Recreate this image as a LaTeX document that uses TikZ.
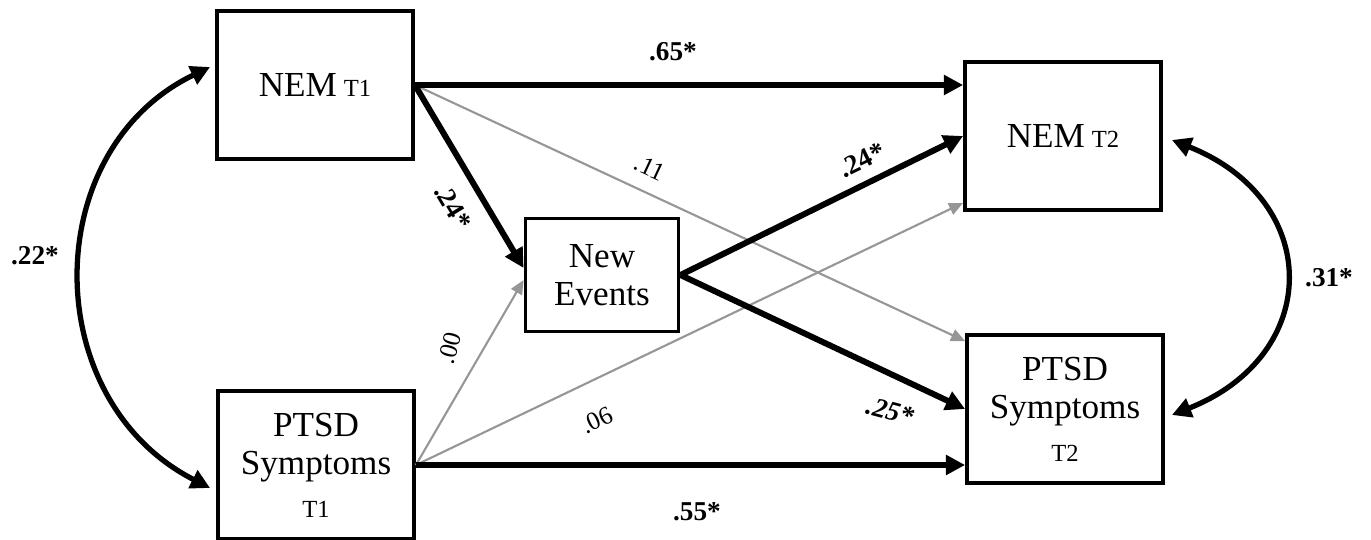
\documentclass[tikz,border=0pt]{standalone}
\usepackage{fontspec}
\setmainfont{Liberation Serif}
\usetikzlibrary{arrows.meta, positioning, calc}
\definecolor{pgray}{RGB}{150, 150, 150}
\definecolor{pblack}{RGB}{0, 0, 0}
\newcommand{\tsub}[1]{{\fontsize{14}{16}\selectfont #1}}

\begin{document}
\begin{tikzpicture}[x=0.02cm, y=-0.02cm,
    box/.style={draw, line width=2.2pt, minimum width=3.92cm, minimum height=2.96cm, align=center, font=\fontsize{20}{22}\selectfont},
    strong/.style={pblack, line width=3.4pt, -{Triangle[length=11pt, width=11pt]}},
    weak/.style={pgray, line width=1.2pt, -{Triangle[length=8pt, width=7pt]}},
    corr/.style={pblack, line width=3pt, {Triangle[length=11pt, width=11pt]}-{Triangle[length=11pt, width=11pt]}},
    est/.style={font=\fontsize{15.5}{18}\selectfont\bfseries},
    nsest/.style={font=\fontsize{14.5}{17}\selectfont}
]
    \useasboundingbox (0,0) rectangle (1371,540);

    % Variables
    \node[box] (nemA) at (315, 85) {NEM\hspace{4pt}\tsub{T1}};
    \node[box] (ptsdA) at (316, 465) {PTSD\\Symptoms\\[2pt]\tsub{T1}};
    \node[box, minimum width=3.06cm, minimum height=2.26cm] (events) at (602, 275) {New\\Events};
    \node[box] (nemB) at (1063, 136) {NEM\hspace{4pt}\tsub{T2}};
    \node[box] (ptsdB) at (1065, 409) {PTSD\\Symptoms\\[2pt]\tsub{T2}};

    % Non-significant paths
    \draw[weak] (nemA.east) -- ($(ptsdB.north west)+(0, 8)$);
    \draw[weak] (ptsdA.east) -- ($(events.west)+(0, 5)$);
    \draw[weak] (ptsdA.east) -- ($(nemB.south west)+(0, -9)$);

    % Significant paths
    \draw[strong] (nemA.east) -- (nemA.east -| nemB.west);
    \draw[strong] (nemA.east) -- ($(events.west)+(0, -7)$);
    \draw[strong] (ptsdA.east) -- (ptsdA.east -| ptsdB.west);
    \draw[strong] (events.east) -- (nemB.west);
    \draw[strong] (events.east) -- (ptsdB.west);

    % Correlations
    \draw[corr] ($(nemA.west)+(-5, -18)$) .. controls +(-172, 83) and +(-172, -88) .. ($(ptsdA.west)+(-6, 23)$);
    \draw[corr] ($(nemB.east)+(9, 4)$) .. controls +(151, 60) and +(151, -60) .. ($(ptsdB.east)+(7, 6)$);

    % Estimates
    \node[est] (l65) at (673, 52) {.65*};
    \node[est, rotate=-59] (l24a) at (453, 207) {.24*};
    \node[nsest, rotate=-25] (l11) at (650, 168) {.11};
    \node[nsest, rotate=75] (l00) at (450, 348) {.00};
    \node[nsest, rotate=25] (l06) at (597, 420) {.06};
    \node[est, rotate=26] (l24b) at (862, 160) {.24*};
    \node[est, rotate=-15] (l25) at (890, 411) {\itshape .25*};
    \node[est] (l55) at (697, 512) {.55*};
    \node[est] (l22) at (35, 256) {.22*};
    \node[est] (l31) at (1329, 278) {.31*};
\end{tikzpicture}
\end{document}
